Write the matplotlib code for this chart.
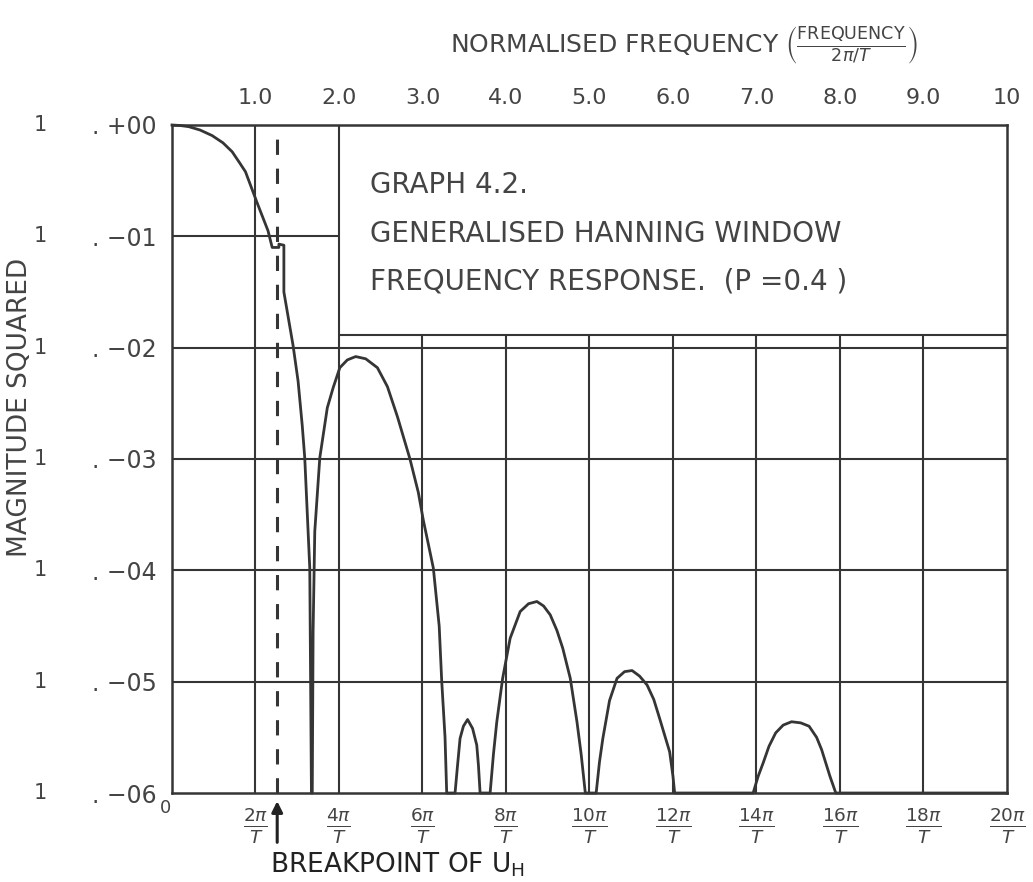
import numpy as np
import matplotlib.pyplot as plt
from matplotlib.ticker import NullLocator
from matplotlib.transforms import blended_transform_factory

# normalised frequency (units of 2pi/T) against log10 of the magnitude squared
freq = [0.00, 0.10, 0.20, 0.335, 0.48, 0.61, 0.72, 0.81, 0.88, 0.93, 1.02, 1.15, 1.20,
        1.28, 1.28, 1.34, 1.34, 1.45, 1.51, 1.56, 1.59, 1.63, 1.65, 1.66, 1.67,
        1.68, 1.69, 1.71, 1.77, 1.86, 1.93, 2.01, 2.10, 2.20, 2.32, 2.46, 2.58,
        2.70, 2.85, 2.95, 3.01, 3.08, 3.13, 3.20, 3.23, 3.27, 3.29,
        3.39, 3.42, 3.45, 3.49, 3.54, 3.60, 3.65, 3.67, 3.69,
        3.81, 3.85, 3.89, 3.96, 4.05, 4.17, 4.27, 4.37, 4.45, 4.53, 4.61, 4.68,
        4.77, 4.85, 4.90, 4.95,
        5.08, 5.12, 5.16, 5.24, 5.33, 5.42, 5.51, 5.60, 5.69, 5.77, 5.84, 5.96,
        6.00, 6.02,
        6.96, 7.02, 7.08, 7.15, 7.23, 7.32, 7.42, 7.53, 7.63, 7.72, 7.78, 7.88,
        7.95, 10.0]
log_mag = [0.0, -0.005, -0.015, -0.045, -0.095, -0.16, -0.24, -0.34, -0.42, -0.52,
           -0.70, -0.95, -1.10, -1.10, -1.07, -1.08, -1.50, -1.98, -2.30, -2.70,
           -2.99, -3.65, -3.98, -4.99, -6.0,
           -6.0, -4.55, -3.65, -2.99, -2.54, -2.36, -2.18, -2.11, -2.08, -2.10,
           -2.18, -2.35, -2.62, -3.00, -3.30, -3.55, -3.80, -3.98, -4.50, -4.99,
           -5.50, -6.0,
           -6.0, -5.75, -5.51, -5.40, -5.34, -5.42, -5.57, -5.75, -6.0,
           -6.0, -5.65, -5.36, -4.97, -4.61, -4.37, -4.30, -4.28, -4.32, -4.40,
           -4.54, -4.70, -4.97, -5.36, -5.65, -6.0,
           -6.0, -5.72, -5.51, -5.17, -4.97, -4.91, -4.90, -4.95, -5.03, -5.16,
           -5.33, -5.63, -5.85, -6.0,
           -6.0, -5.85, -5.73, -5.58, -5.46, -5.39, -5.36, -5.37, -5.40, -5.50,
           -5.61, -5.85, -6.0, -6.0]

decades = [0, -1, -2, -3, -4, -5, -6]
grid_x = list(range(1, 11))
top_labels = ['1.0', '2.0', '3.0', '4.0', '5.0', '6.0', '7.0', '8.0', '9.0', '10']
bottom_labels = [r'$\frac{%d\pi}{T}$' % (2 * k) for k in grid_x]
breakpoint_uh = 1.26
panel_floor = -1.89   # lower edge of the caption panel

INK = '#353535'
TXT = '#444444'

fig = plt.figure(figsize=(10.33, 8.82), dpi=100)
ax = fig.add_axes([0.1665, 0.1009, 0.8083, 0.7574])
ax.set_yscale('log')
ax.set_xlim(0, 10)
ax.set_ylim(10.0 ** decades[-1], 10.0 ** decades[0])

for s in ax.spines.values():
    s.set_color(INK)
    s.set_linewidth(1.8)

# grid: the caption panel in the upper right hides part of it
for d in decades[1:-1]:
    ax.hlines(10.0 ** d, 0, 2 if d == -1 else 10, color=INK, lw=1.5)
ax.vlines([1, 2], 1e-6, 1, color=INK, lw=1.5)
ax.vlines(grid_x[2:-1], 1e-6, 10.0 ** panel_floor, color=INK, lw=1.5)
ax.hlines(10.0 ** panel_floor, 2, 10, color=INK, lw=1.5)

ax.vlines(breakpoint_uh, 1e-6, 1, color=INK, lw=2.2, linestyles=(0, (5, 4.5)))

ax.plot(freq, 10.0 ** np.array(log_mag), color=INK, lw=2.0, clip_on=False,
        solid_joinstyle='round')

# axis labels
ax.yaxis.set_minor_locator(NullLocator())
ax.set_yticks([10.0 ** d for d in decades])
ax.set_yticklabels(['. %s%02d' % ('+' if d == 0 else '\u2212', abs(d)) for d in decades],
                   fontsize=17, color=TXT)
ax.tick_params(axis='y', length=0, pad=11)
tr = blended_transform_factory(fig.transFigure, ax.transData)
for d in decades:
    ax.text(0.039, 10.0 ** d, '1', transform=tr, ha='center', va='center',
            fontsize=15, color=TXT)

ax.set_xticks(grid_x)
ax.set_xticklabels(bottom_labels, fontsize=19, color=TXT)
ax.tick_params(axis='x', length=0, pad=9)
ax.annotate('0', xy=(0, 1e-6), xytext=(-5, -11), textcoords='offset points',
            ha='center', va='center', fontsize=13, color=TXT)

top = ax.secondary_xaxis('top')
top.set_xticks(grid_x)
top.set_xticklabels(top_labels, fontsize=16, color=TXT)
top.tick_params(length=0, pad=12)
top.spines['top'].set_visible(False)

fig.text(0.4356, 0.949,
         r'NORMALISED FREQUENCY $\left(\frac{\mathrm{FREQUENCY}}{2\pi/T}\right)$',
         ha='left', va='center', fontsize=18, color=TXT)
fig.text(0.019, 1 - 407 / 882, 'MAGNITUDE SQUARED', rotation=90,
         ha='center', va='center', fontsize=19, color=TXT)

caption = ['GRAPH 4.2.', 'GENERALISED HANNING WINDOW',
           'FREQUENCY RESPONSE.  (P =0.4 )']
for i, line in enumerate(caption):
    ax.text(0.237, 0.910 - i * 0.0725, line, transform=ax.transAxes,
            ha='left', va='center', fontsize=20, color=TXT)

ax.annotate('', xy=(breakpoint_uh, -0.008), xytext=(breakpoint_uh, -0.078),
            xycoords=('data', 'axes fraction'),
            arrowprops=dict(arrowstyle='-|>', lw=2.2, color='#222222',
                            mutation_scale=16))
fig.text(0.2614, 1 - 865 / 882, r'BREAKPOINT OF $\mathrm{U_H}$',
         ha='left', va='center', fontsize=19, color='#222222')

fig.savefig('out.png', dpi=100, facecolor='white')
